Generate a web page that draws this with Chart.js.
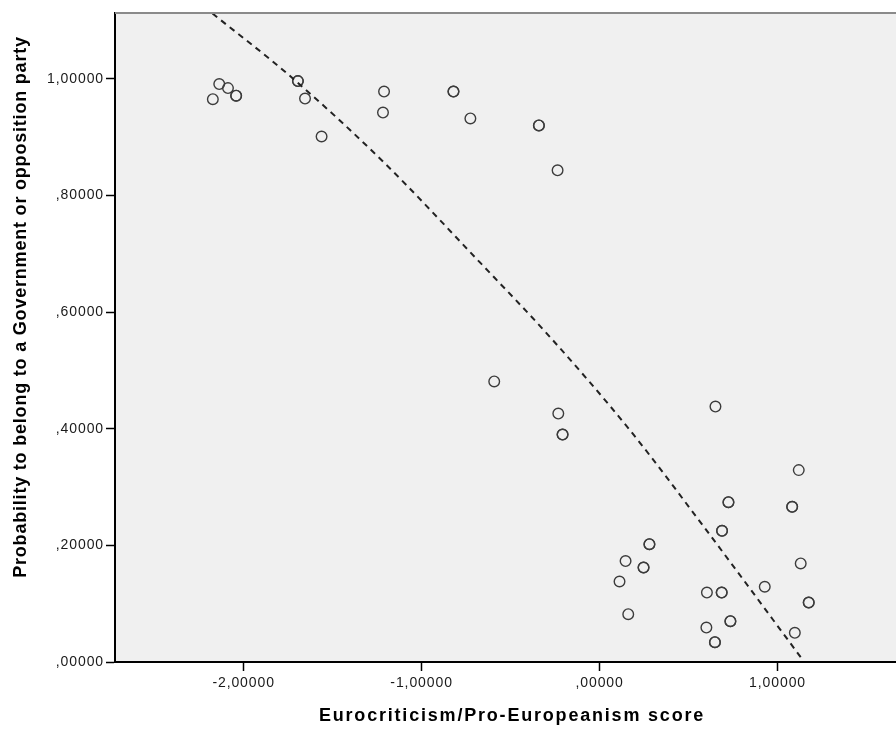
<!DOCTYPE html>
<html>
<head>
<meta charset="utf-8">
<script src="https://cdn.jsdelivr.net/npm/chart.js@4/dist/chart.umd.min.js"></script>
<style>
  body { margin: 0; background: #fff; }
  #wrap { width: 896px; height: 731px; }
</style>
</head>
<body>
<div id="wrap"><canvas id="chart" width="896" height="731"></canvas></div>
<script>
// party scores (x) and probabilities (y); repeated rows are overlapping cases
const scoreX = [
  -2.173, -2.137, -2.088, -2.042, -2.042, -1.695, -1.695, -1.655, -1.562,
  -1.211, -1.217, -0.821, -0.821, -0.726, -0.341, -0.341, -0.236,
  -0.592, -0.232, -0.208, -0.208, 0.651, 1.119, 0.724, 0.724,
  1.082, 1.082, 0.688, 0.688, 0.280, 0.280, 0.146, 0.247, 0.247,
  1.130, 0.112, 0.928, 0.603, 0.686, 0.686, 1.175, 1.175, 0.161,
  0.735, 0.735, 0.600, 1.097, 0.648, 0.648
];
const probY = [
  0.965, 0.991, 0.984, 0.971, 0.971, 0.996, 0.996, 0.966, 0.901,
  0.978, 0.942, 0.978, 0.978, 0.932, 0.920, 0.920, 0.843,
  0.481, 0.426, 0.390, 0.390, 0.438, 0.329, 0.274, 0.274,
  0.266, 0.266, 0.225, 0.225, 0.202, 0.202, 0.173, 0.162, 0.162,
  0.169, 0.138, 0.129, 0.119, 0.119, 0.119, 0.102, 0.102, 0.082,
  0.070, 0.070, 0.059, 0.050, 0.034, 0.034
];

// fitted curve
const fitX = [-2.175, -1.744, -1.220, -0.675, -0.281, 0.169, 0.600, 1.143];
const fitY = [1.112, 1.006, 0.859, 0.686, 0.558, 0.398, 0.226, 0.003];

const xTicks = [-2, -1, 0, 1];
const yTicks = [0, 0.2, 0.4, 0.6, 0.8, 1.0];

const xTitle = "Eurocriticism/Pro-Europeanism score";
const yTitle = "Probability to belong to a Government or opposition party";

function fmt(v) {
  let s = Number(v).toFixed(5).replace(".", ",");
  if (s.startsWith("0,")) s = s.slice(1);
  return s;
}

const points = scoreX.map((x, i) => ({ x: x, y: probY[i] }));
const fitLine = fitX.map((x, i) => ({ x: x, y: fitY[i] }));

const plotFrame = {
  id: "plotFrame",
  beforeDraw(chart) {
    const { ctx, chartArea: a } = chart;
    ctx.save();
    ctx.fillStyle = "#f0f0f0";
    ctx.fillRect(a.left, a.top, a.right - a.left, a.bottom - a.top);
    ctx.restore();
    ctx.letterSpacing = "0.9px";
  },
  afterDraw(chart) {
    const { ctx, chartArea: a } = chart;
    ctx.save();
    ctx.strokeStyle = "#8a8a8a";
    ctx.lineWidth = 2;
    ctx.beginPath();
    ctx.moveTo(a.left, a.top);
    ctx.lineTo(a.right, a.top);
    ctx.stroke();

    ctx.fillStyle = "#000";
    ctx.font = "bold 18px 'Liberation Sans', Arial, sans-serif";
    ctx.textAlign = "center";
    ctx.textBaseline = "middle";
    ctx.letterSpacing = "1.8px";
    ctx.fillText(xTitle, 512, 716);

    ctx.letterSpacing = "0.8px";
    ctx.translate(21, 307);
    ctx.rotate(-Math.PI / 2);
    ctx.fillText(yTitle, 0, 0);
    ctx.restore();
  }
};

new Chart(document.getElementById("chart"), {
  data: {
    datasets: [
      {
        type: "scatter",
        data: points,
        pointRadius: 5.3,
        pointHoverRadius: 5.3,
        borderWidth: 1.4,
        borderColor: "#3c3c3c",
        backgroundColor: "rgba(0,0,0,0)",
        order: 2
      },
      {
        type: "line",
        data: fitLine,
        borderColor: "#222",
        borderWidth: 2,
        borderDash: [6, 5],
        pointRadius: 0,
        fill: false,
        cubicInterpolationMode: "monotone",
        order: 1
      }
    ]
  },
  options: {
    responsive: false,
    animation: false,
    devicePixelRatio: 1,
    layout: { autoPadding: false, padding: { top: 13, right: 0, left: 0, bottom: 0 } },
    plugins: { legend: { display: false }, tooltip: { enabled: false } },
    scales: {
      x: {
        type: "linear",
        min: -2.7227,
        max: 1.6654,
        afterFit: (s) => { s.height = 69; s.paddingLeft = 0; s.paddingRight = 0; },
        afterBuildTicks: (s) => { s.ticks = xTicks.map((v) => ({ value: v })); },
        border: { display: true, color: "#000", width: 2 },
        grid: { drawOnChartArea: false, tickLength: 9, tickColor: "#000", tickWidth: 1.5 },
        ticks: {
          padding: 4,
          color: "#1a1a1a",
          font: { family: "'Liberation Sans', Arial, sans-serif", size: 14 },
          callback: (v) => fmt(v)
        }
      },
      y: {
        type: "linear",
        min: 0,
        max: 1.1128,
        afterFit: (s) => { s.width = 115; s.paddingTop = 0; s.paddingBottom = 0; },
        afterBuildTicks: (s) => { s.ticks = yTicks.map((v) => ({ value: v })); },
        border: { display: true, color: "#000", width: 2 },
        grid: { drawOnChartArea: false, tickLength: 9, tickColor: "#000", tickWidth: 1.5 },
        ticks: {
          padding: 2,
          color: "#1a1a1a",
          font: { family: "'Liberation Sans', Arial, sans-serif", size: 14 },
          callback: (v) => fmt(v)
        }
      }
    }
  },
  plugins: [plotFrame]
});
</script>
</body>
</html>
